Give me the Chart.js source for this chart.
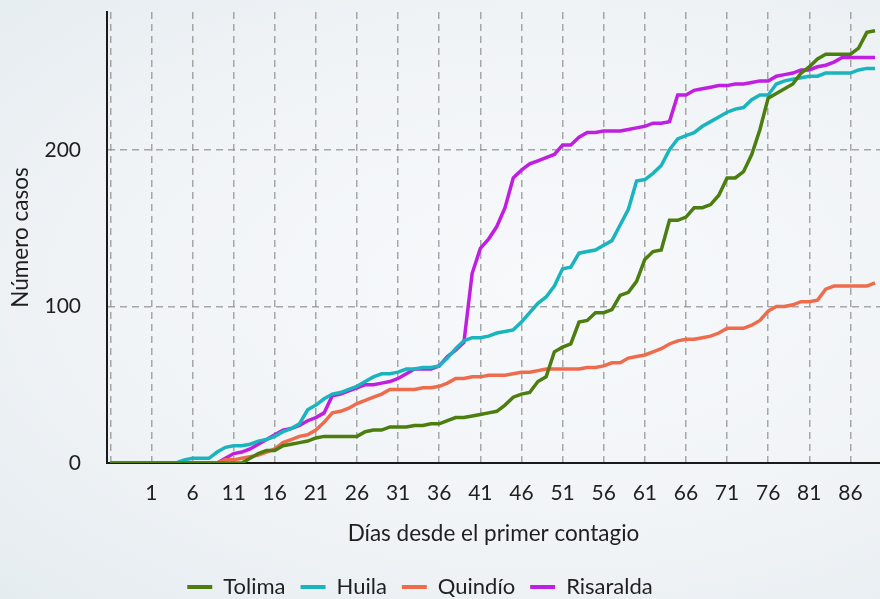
<!DOCTYPE html>
<html lang="es">
<head>
<meta charset="utf-8">
<title>Número casos por departamento</title>
<script src="https://cdn.jsdelivr.net/npm/chart.js@4"></script>
<style>
  html, body {
    margin: 0;
    padding: 0;
    overflow: hidden;
  }
  body {
    width: 880px;
    height: 599px;
    background: radial-gradient(ellipse at 62% 48%, #f7f9fb 0%, #f1f4f7 55%, #e5ecf0 100%);
  }
  #wrap {
    position: relative;
    width: 880px;
    height: 599px;
  }
</style>
</head>
<body>
<div id="wrap"><canvas id="chart"></canvas></div>
<script>
// ── Data ─────────────────────────────────────
// días desde el primer contagio (-4 … 89)
const days = [
  -4, -3, -2, -1, 0, 1, 2, 3, 4, 5, 6, 7, 8, 9, 10, 11, 12, 13, 14, 15,
  16, 17, 18, 19, 20, 21, 22, 23, 24, 25, 26, 27, 28, 29, 30, 31, 32, 33, 34, 35,
  36, 37, 38, 39, 40, 41, 42, 43, 44, 45, 46, 47, 48, 49, 50, 51, 52, 53, 54, 55,
  56, 57, 58, 59, 60, 61, 62, 63, 64, 65, 66, 67, 68, 69, 70, 71, 72, 73, 74, 75,
  76, 77, 78, 79, 80, 81, 82, 83, 84, 85, 86, 87, 88, 89
];

const tolima = [
  0, 0, 0, 0, 0, 0, 0, 0, 0, 0, 0, 0, 0, 0, 0, 0, 0, 3, 6, 8,
  8, 11, 12, 13, 14, 16, 17, 17, 17, 17, 17, 20, 21, 21, 23, 23, 23, 24, 24, 25,
  25, 27, 29, 29, 30, 31, 32, 33, 37, 42, 44, 45, 52, 55, 71, 74, 76, 90, 91, 96,
  96, 98, 107, 109, 116, 130, 135, 136, 155, 155, 157, 163, 163, 165, 171, 182, 182, 186, 197, 213,
  233, 236, 239, 242, 249, 253, 258, 261, 261, 261, 261, 265, 275, 276
];

const huila = [
  0, 0, 0, 0, 0, 0, 0, 0, 0, 2, 3, 3, 3, 7, 10, 11, 11, 12, 14, 15,
  17, 20, 22, 25, 34, 37, 41, 44, 45, 47, 49, 52, 55, 57, 57, 58, 60, 60, 61, 61,
  62, 67, 73, 78, 80, 80, 81, 83, 84, 85, 90, 96, 102, 106, 113, 124, 125, 134, 135, 136,
  139, 142, 152, 162, 180, 181, 185, 190, 200, 207, 209, 211, 215, 218, 221, 224, 226, 227, 232, 235,
  235, 242, 244, 245, 246, 247, 247, 249, 249, 249, 249, 251, 252, 252
];

const quindio = [
  0, 0, 0, 0, 0, 0, 0, 0, 0, 0, 0, 0, 0, 0, 2, 2, 3, 4, 5, 7,
  9, 13, 15, 17, 18, 21, 26, 32, 33, 35, 38, 40, 42, 44, 47, 47, 47, 47, 48, 48,
  49, 51, 54, 54, 55, 55, 56, 56, 56, 57, 58, 58, 59, 60, 60, 60, 60, 60, 61, 61,
  62, 64, 64, 67, 68, 69, 71, 73, 76, 78, 79, 79, 80, 81, 83, 86, 86, 86, 88, 91,
  97, 100, 100, 101, 103, 103, 104, 111, 113, 113, 113, 113, 113, 115
];

const risaralda = [
  0, 0, 0, 0, 0, 0, 0, 0, 0, 0, 0, 0, 0, 0, 3, 6, 7, 9, 12, 15,
  18, 21, 22, 24, 27, 29, 32, 43, 44, 46, 48, 50, 50, 51, 52, 54, 57, 60, 60, 60,
  62, 68, 72, 77, 121, 137, 143, 151, 163, 182, 187, 191, 193, 195, 197, 203, 203, 208, 211, 211,
  212, 212, 212, 213, 214, 215, 217, 217, 218, 235, 235, 238, 239, 240, 241, 241, 242, 242, 243, 244,
  244, 247, 248, 249, 251, 251, 253, 254, 256, 259, 259, 259, 259, 259
];

const seriesNames = ["Tolima", "Huila", "Quindío", "Risaralda"];
const seriesColors = ["#4b7d0f", "#1ab4bf", "#ee6c4c", "#c01ee0"];

// tick labels
const xTicks = [-4, 1, 6, 11, 16, 21, 26, 31, 36, 41, 46, 51, 56, 61, 66, 71, 76, 81, 86];
const yTicks = [0, 100, 200];

// ── Style ────────────────────────────────────
const FAMILY = "Lato, 'Open Sans', sans-serif";
const TICK_FONT = { family: FAMILY, size: 21 };
const TITLE_FONT = { family: FAMILY, size: 22.5 };
const LEGEND_FONT = { family: FAMILY, size: 22 };
const TEXT = "#1f1f1f";
const GRID = "rgba(140,140,140,0.75)";

function toPoints(values) {
  return days.map((d, i) => ({ x: d, y: values[i] }));
}

const datasets = [tolima, huila, quindio, risaralda].map((vals, i) => ({
  label: seriesNames[i],
  data: toPoints(vals),
  borderColor: seriesColors[i],
  backgroundColor: seriesColors[i],
  borderWidth: 3.5,
  pointRadius: 0,
  tension: 0,
  fill: false
}));

// the legend sits a bit left of centre and lower than Chart.js would put it
const legendNudge = {
  id: "legendNudge",
  afterLayout(chart) {
    const lg = chart.legend;
    if (!lg) return;
    lg.left -= 20;
    lg.right -= 20;
    lg.top += 9;
    lg.bottom += 9;
  }
};

new Chart(document.getElementById("chart"), {
  type: "line",
  data: { datasets },
  plugins: [legendNudge],
  options: {
    responsive: true,
    maintainAspectRatio: false,
    animation: false,
    layout: { padding: { top: 12, right: 0, bottom: 0, left: 0 } },
    plugins: {
      tooltip: { enabled: false },
      legend: {
        position: "bottom",
        labels: {
          font: LEGEND_FONT,
          color: TEXT,
          boxWidth: 25,
          boxHeight: 4,
          padding: 15,
          generateLabels(chart) {
            return Chart.defaults.plugins.legend.labels.generateLabels(chart).map((l) => {
              l.lineWidth = 0;
              l.fillStyle = l.strokeStyle;
              return l;
            });
          }
        }
      }
    },
    scales: {
      x: {
        type: "linear",
        min: -4.4,
        max: 89.6,
        afterBuildTicks(scale) {
          scale.ticks = xTicks.map((v) => ({ value: v }));
        },
        afterFit(scale) {
          scale.height = 89;
          scale.paddingLeft = 0;
          scale.paddingRight = 0;
        },
        ticks: {
          font: TICK_FONT,
          color: TEXT,
          padding: 18,
          maxRotation: 0,
          autoSkip: false,
          callback: (v) => (v < 1 ? "" : String(v))
        },
        grid: { color: GRID, lineWidth: 1.5, drawTicks: false },
        border: { color: "#1a1a1a", width: 2, dash: [7, 5] },
        title: {
          display: true,
          text: "Días desde el primer contagio",
          font: TITLE_FONT,
          color: TEXT,
          padding: { top: 8, bottom: 5 }
        }
      },
      y: {
        min: 0,
        max: 288,
        afterBuildTicks(scale) {
          scale.ticks = yTicks.map((v) => ({ value: v }));
        },
        afterFit(scale) {
          scale.width = 107;
          scale.paddingTop = 0;
          scale.paddingBottom = 0;
        },
        ticks: { font: TICK_FONT, color: TEXT, padding: 26 },
        grid: { color: GRID, lineWidth: 1.5, drawTicks: false },
        border: { color: "#1a1a1a", width: 2, dash: [7, 5] },
        title: {
          display: true,
          text: "Número casos",
          font: TITLE_FONT,
          color: TEXT,
          padding: { top: 7, bottom: 7 }
        }
      }
    }
  }
});
</script>
</body>
</html>
